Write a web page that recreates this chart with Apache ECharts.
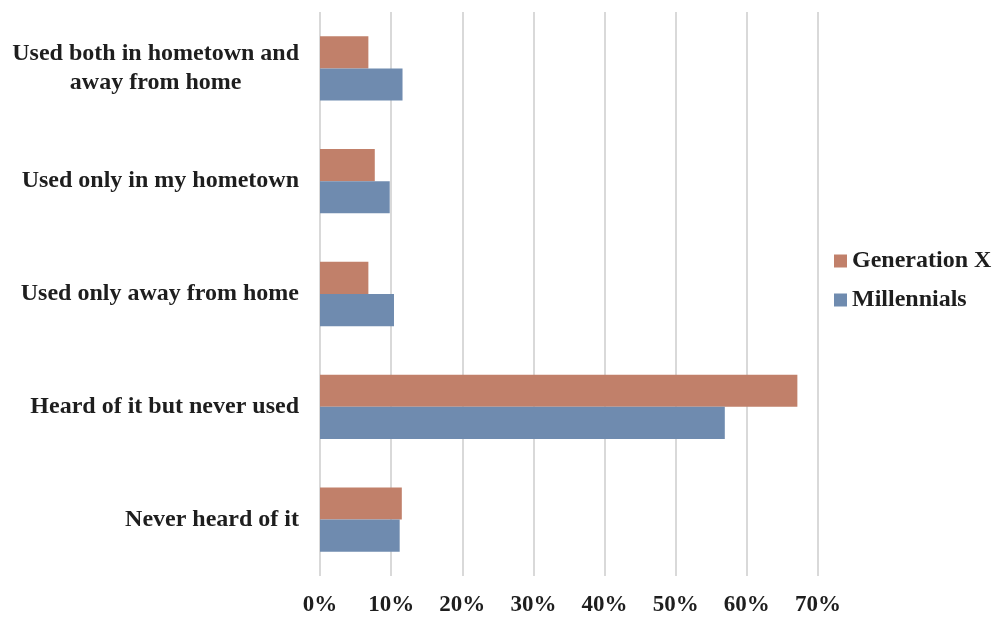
<!DOCTYPE html>
<html>
<head>
<meta charset="utf-8">
<script src="https://cdn.jsdelivr.net/npm/echarts@6/dist/echarts.min.js"></script>
<style>html,body{margin:0;padding:0;background:#fff}#c{width:995px;height:617px}</style>
</head>
<body>
<div id="c"></div>
<script>
// Categories listed bottom-to-top (ECharts category y-axis starts at the bottom)
const categories = ['Never heard of it', 'Heard of it but never used', 'Used only away from home', 'Used only in my hometown', 'Used both in hometown and\naway from home'];
const millennials = [11.2, 56.9, 10.4, 9.8, 11.6];
const generationX = [11.5, 67.1, 6.8, 7.7, 6.8];
const xTicks = [0, 10, 20, 30, 40, 50, 60, 70];

const font = 'Liberation Serif, Times New Roman, serif';
const txt = '#1e1e1e';
const chart = echarts.init(document.getElementById('c'));
chart.setOption({
  animation: false,
  backgroundColor: '#ffffff',
  grid: { left: 320, right: 177, top: 12, bottom: 39, containLabel: false },
  legend: {
    orient: 'vertical',
    left: 829, top: 244,
    itemWidth: 13, itemHeight: 13, itemGap: 15,
    icon: 'rect',
    data: ['Generation X', 'Millennials'],
    textStyle: { fontFamily: font, fontWeight: 'bold', fontSize: 24, color: txt }
  },
  xAxis: {
    type: 'value', min: xTicks[0], max: xTicks[xTicks.length - 1], interval: 10,
    axisLine: { show: false }, axisTick: { show: false },
    splitLine: { show: true, lineStyle: { color: '#d9d9d9', width: 2 } },
    axisLabel: { formatter: v => v + '%', margin: 18, fontFamily: font, fontWeight: 'bold', fontSize: 23, color: txt }
  },
  yAxis: {
    type: 'category', data: categories,
    axisLine: { show: false }, axisTick: { show: false },
    axisLabel: {
      margin: 21, fontFamily: font, fontWeight: 'bold', fontSize: 24, color: txt, lineHeight: 29,
      formatter: v => v.split('\n').map(s => '{c|' + s + '}').join('\n'),
      rich: { c: { align: 'center', fontFamily: font, fontWeight: 'bold', fontSize: 24, color: txt, lineHeight: 29 } }
    }
  },
  series: [
    { name: 'Generation X', type: 'bar', data: generationX, barGap: '0%', barCategoryGap: '43%',
      itemStyle: { color: '#C1806A' } },
    { name: 'Millennials', type: 'bar', data: millennials, barGap: '0%', barCategoryGap: '43%',
      itemStyle: { color: '#6F8BAF' } }
  ]
});
</script>
</body>
</html>
